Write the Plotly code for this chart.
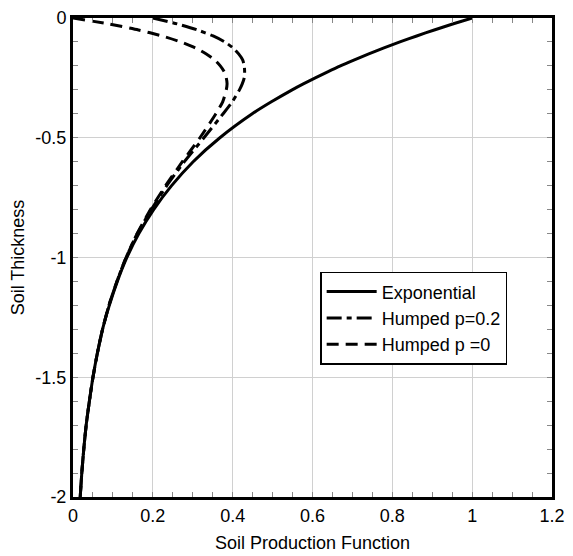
import plotly.graph_objects as go

# Soil thickness (depth, negative downward)
depth = [0, -0.025, -0.05, -0.075, -0.1, -0.125, -0.15, -0.175, -0.2, -0.225, -0.25,
         -0.275, -0.3, -0.35, -0.4, -0.5, -0.6, -0.7, -0.8, -0.9, -1.0, -1.1, -1.2,
         -1.3, -1.4, -1.5, -1.6, -1.7, -1.8, -1.9, -2.0]

exponential = [1.0, 0.951, 0.905, 0.861, 0.819, 0.779, 0.741, 0.705, 0.670, 0.638, 0.607,
               0.577, 0.549, 0.497, 0.449, 0.368, 0.301, 0.247, 0.202, 0.165, 0.135, 0.111,
               0.091, 0.074, 0.061, 0.050, 0.041, 0.033, 0.027, 0.022, 0.018]

humped_p02 = [0.2, 0.262, 0.312, 0.351, 0.380, 0.401, 0.415, 0.425, 0.429, 0.430, 0.429,
              0.424, 0.417, 0.399, 0.376, 0.328, 0.279, 0.235, 0.196, 0.161, 0.133, 0.110,
              0.090, 0.074, 0.061, 0.050, 0.041, 0.033, 0.027, 0.022, 0.018]

humped_p0 = [0.0, 0.090, 0.164, 0.223, 0.270, 0.307, 0.334, 0.355, 0.369, 0.379, 0.384,
             0.386, 0.384, 0.375, 0.358, 0.318, 0.274, 0.232, 0.194, 0.161, 0.133, 0.110,
             0.090, 0.074, 0.061, 0.050, 0.041, 0.033, 0.027, 0.022, 0.018]

x_ticks = [0, 0.2, 0.4, 0.6, 0.8, 1, 1.2]
x_labels = ["0", "0.2", "0.4", "0.6", "0.8", "1", "1.2"]
y_ticks = [0, -0.5, -1, -1.5, -2]
y_labels = ["0", "-0.5", "-1", "-1.5", "-2"]

FONT = "Liberation Sans, Arial, sans-serif"

fig = go.Figure()
fig.add_trace(go.Scatter(x=exponential, y=depth, mode="lines", name="Exponential",
                         line=dict(color="black", width=3, shape="spline", smoothing=0.6)))
fig.add_trace(go.Scatter(x=humped_p02, y=depth, mode="lines", name="Humped p=0.2",
                         line=dict(color="black", width=3, dash="15px,5px,5px,5px",
                                   shape="spline", smoothing=0.6)))
fig.add_trace(go.Scatter(x=humped_p0, y=depth, mode="lines", name="Humped p =0",
                         line=dict(color="black", width=3, dash="12px,7px",
                                   shape="spline", smoothing=0.6)))

axis_common = dict(
    showline=True, linecolor="black", linewidth=3, mirror="allticks",
    ticks="inside", ticklen=5, tickcolor="#888888", tickwidth=1,
    showgrid=True, gridcolor="#d0d0d0", gridwidth=1, zeroline=False,
    automargin=False,
    tickfont=dict(family=FONT, size=18, color="black"),
)

fig.update_xaxes(
    range=[0, 1.2], tickvals=x_ticks, ticktext=x_labels,
    minor=dict(dtick=0.05, ticks="inside", ticklen=5, tickcolor="#888888", showgrid=False),
    title=dict(text="Soil Production Function", standoff=12,
               font=dict(family=FONT, size=18, color="black")),
    **axis_common,
)
fig.update_yaxes(
    range=[-2, 0], tickvals=y_ticks, ticktext=y_labels,
    minor=dict(dtick=0.1, ticks="inside", ticklen=5, tickcolor="#888888", showgrid=False),
    title=dict(text="Soil Thickness", standoff=12,
               font=dict(family=FONT, size=18, color="black")),
    **axis_common,
)

# page body has an 8px default margin, so the figure is sized to fit the remaining area
fig.update_layout(
    width=565, height=548,
    margin=dict(l=65, r=21, t=10, b=59),
    plot_bgcolor="white", paper_bgcolor="white",
    font=dict(family=FONT, size=18, color="black"),
    legend=dict(x=0.516, y=0.470, xanchor="left", yanchor="top",
                bordercolor="black", borderwidth=1.5, bgcolor="white",
                font=dict(size=18), tracegroupgap=0, itemwidth=50),
)

fig.write_html("out.html")
